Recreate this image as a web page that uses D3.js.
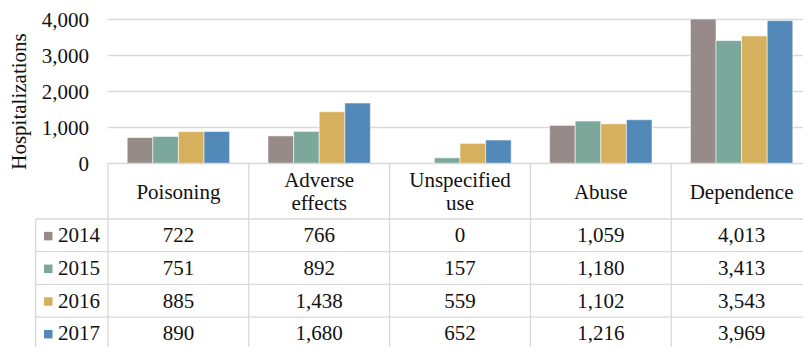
<!DOCTYPE html>
<html>
<head>
<meta charset="utf-8">
<script src="https://cdn.jsdelivr.net/npm/d3@7"></script>
<style>
  body { margin: 0; background: #fff; }
  svg text { font-family: "Liberation Serif", "Times New Roman", serif; fill: #111; }
</style>
</head>
<body>
<div id="chart"></div>
<script>
// categories along the x axis (also the table header)
const categories = ["Poisoning", "Adverse effects", "Unspecified use", "Abuse", "Dependence"];
const years = ["2014", "2015", "2016", "2017"];
const colors = ["#968b88", "#7ba89a", "#d6b05c", "#5389b9"];

// hospitalizations per year, one value per category
const values2014 = [722, 766, 0, 1059, 4013];
const values2015 = [751, 892, 157, 1180, 3413];
const values2016 = [885, 1438, 559, 1102, 3543];
const values2017 = [890, 1680, 652, 1216, 3969];
const yTicks = [0, 1000, 2000, 3000, 4000];

const series = [values2014, values2015, values2016, values2017];

class BarTable {
  constructor(_config) {
    this.config = {
      parentElement: _config.parentElement,
      containerWidth: _config.containerWidth || 803,
      containerHeight: _config.containerHeight || 347,
      margin: _config.margin || { top: 19.5, left: 108, plotRight: 812, bottom: 163.5 },
      rowHeight: 32.7,
      headerHeight: 55.5,
      legendLeft: 35.7,
      fontSize: 21,
    };
    this.initVis();
  }

  initVis() {
    let vis = this;
    const m = vis.config.margin;
    const fs = vis.config.fontSize;
    const fmt = d3.format(",");

    vis.svg = d3.select(vis.config.parentElement)
      .append("svg")
      .attr("width", vis.config.containerWidth)
      .attr("height", vis.config.containerHeight)
      .attr("font-family", "Liberation Serif");

    // scales
    vis.x0 = d3.scaleBand().domain(categories).range([m.left, m.plotRight]).padding(0);
    vis.x1 = d3.scaleBand().domain(years).range([0, vis.x0.bandwidth()])
      .paddingInner(0).paddingOuter(0.75);
    vis.y = d3.scaleLinear().domain([0, 4000]).range([m.bottom, m.top]);

    // gridlines
    vis.svg.append("g")
      .selectAll("line")
      .data(yTicks.filter(d => d > 0))
      .join("line")
      .attr("x1", m.left).attr("x2", m.plotRight)
      .attr("y1", d => vis.y(d)).attr("y2", d => vis.y(d))
      .attr("stroke", "#d9d9d9").attr("stroke-width", 1.3);

    // y axis labels
    const yAxis = d3.axisLeft(vis.y).tickValues(yTicks).tickFormat(fmt).tickSize(0).tickPadding(19);
    const yg = vis.svg.append("g")
      .attr("transform", `translate(${m.left},0)`)
      .call(yAxis);
    yg.attr("font-family", null).attr("font-size", fs);
    yg.select(".domain").remove();
    yg.selectAll("text")
      .attr("fill", "#111")
      .attr("dy", "0.34em");

    // axis title
    vis.svg.append("text")
      .attr("transform", `translate(19,${(m.top + m.bottom) / 2 + 10}) rotate(-90)`)
      .attr("text-anchor", "middle")
      .attr("dominant-baseline", "central")
      .attr("font-size", fs)
      .text("Hospitalizations");

    // bars
    vis.svg.append("g")
      .selectAll("g")
      .data(series)
      .join("g")
      .attr("fill", (d, i) => colors[i])
      .each(function (vals, i) {
        d3.select(this).selectAll("rect")
          .data(vals)
          .join("rect")
          .attr("x", (d, j) => vis.x0(categories[j]) + vis.x1(years[i]))
          .attr("width", vis.x1.bandwidth())
          .attr("y", d => vis.y(d))
          .attr("height", d => vis.y(0) - vis.y(d))
          .attr("stroke", "#ffffff")
          .attr("stroke-opacity", 0.55)
          .attr("stroke-width", 1);
      });

    // data table
    const c = vis.config;
    const headBottom = m.bottom + c.headerHeight;
    const tableBottom = headBottom + c.rowHeight * years.length;
    const grid = vis.svg.append("g").attr("stroke", "#d9d9d9").attr("stroke-width", 1.3);

    // top border of header
    grid.append("line")
      .attr("x1", m.left).attr("x2", m.plotRight)
      .attr("y1", m.bottom).attr("y2", m.bottom);
    // row lines
    grid.selectAll(".row-line")
      .data(d3.range(years.length + 1))
      .join("line")
      .attr("x1", c.legendLeft).attr("x2", m.plotRight)
      .attr("y1", i => headBottom + i * c.rowHeight)
      .attr("y2", i => headBottom + i * c.rowHeight);
    // vertical lines
    grid.selectAll(".col-line")
      .data(categories.map(d => vis.x0(d)).concat([m.plotRight]))
      .join("line")
      .attr("x1", d => d).attr("x2", d => d)
      .attr("y1", m.bottom).attr("y2", tableBottom);
    grid.append("line")
      .attr("x1", c.legendLeft).attr("x2", c.legendLeft)
      .attr("y1", headBottom).attr("y2", tableBottom);

    // header labels
    vis.svg.append("g")
      .selectAll("text")
      .data(categories)
      .join("text")
      .attr("text-anchor", "middle")
      .attr("font-size", fs)
      .attr("x", d => vis.x0(d) + vis.x0.bandwidth() / 2)
      .each(function (d) {
        const lines = d.split(" ");
        const base = lines.length > 1 ? m.bottom + 23.5 : m.bottom + 35.5;
        d3.select(this).selectAll("tspan")
          .data(lines)
          .join("tspan")
          .attr("x", vis.x0(d) + vis.x0.bandwidth() / 2)
          .attr("y", (l, k) => base + k * 23)
          .text(l => l);
      });

    // table rows
    const rows = vis.svg.append("g")
      .selectAll("g")
      .data(series)
      .join("g")
      .attr("transform", (d, i) => `translate(0,${headBottom + i * c.rowHeight + c.rowHeight / 2})`);

    rows.append("rect")
      .attr("x", 44).attr("y", -3.5)
      .attr("width", 8.5).attr("height", 8.5)
      .attr("fill", (d, i) => colors[i]);
    rows.append("text")
      .attr("x", 58).attr("y", 7)
      .attr("font-size", fs)
      .text((d, i) => years[i]);
    rows.selectAll(".cell")
      .data(d => d)
      .join("text")
      .attr("class", "cell")
      .attr("text-anchor", "middle")
      .attr("font-size", fs)
      .attr("x", (d, j) => vis.x0(categories[j]) + vis.x0.bandwidth() / 2)
      .attr("y", 7)
      .text(d => fmt(d));
  }
}

new BarTable({ parentElement: "#chart" });
</script>
</body>
</html>
